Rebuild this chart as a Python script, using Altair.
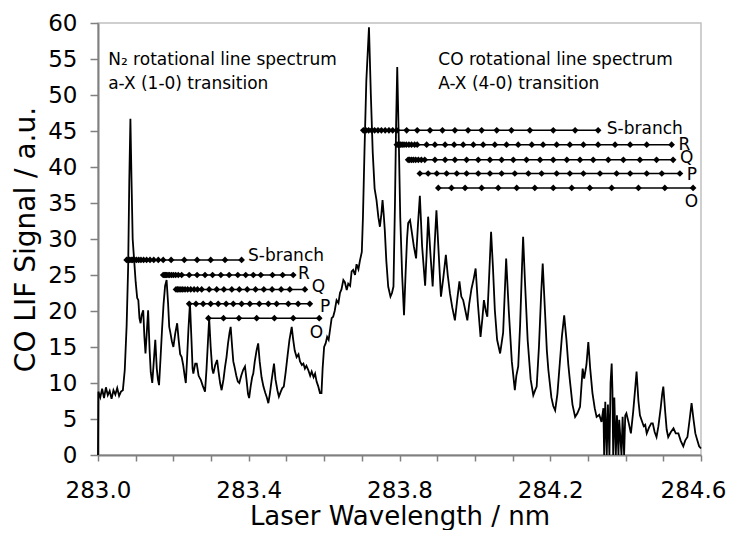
import altair as alt
import pandas as pd

# ---------------- spectrum ----------------
wavelength_nm = [
    283.000, 283.001, 283.006, 283.011, 283.016, 283.021, 283.026, 283.031, 283.036, 283.041,
    283.046, 283.051, 283.056, 283.061, 283.066, 283.071, 283.076, 283.080, 283.083, 283.086,
    283.089, 283.092, 283.096, 283.100, 283.104, 283.107, 283.110, 283.113, 283.116, 283.120,
    283.123, 283.126, 283.130, 283.133, 283.137, 283.140, 283.144, 283.148, 283.152, 283.156,
    283.159, 283.162, 283.166, 283.170, 283.174, 283.178, 283.182, 283.186, 283.189, 283.192,
    283.196, 283.200, 283.205, 283.210, 283.214, 283.218, 283.222, 283.226, 283.230, 283.233,
    283.236, 283.240, 283.244, 283.248, 283.251, 283.253, 283.258, 283.262, 283.267, 283.273,
    283.278, 283.284, 283.288, 283.292, 283.295, 283.299, 283.303, 283.306, 283.311, 283.316,
    283.320, 283.324, 283.328, 283.333, 283.337, 283.341, 283.345, 283.349, 283.352, 283.356,
    283.359, 283.362, 283.367, 283.371, 283.375, 283.380, 283.385, 283.390, 283.394, 283.398,
    283.401, 283.405, 283.409, 283.412, 283.416, 283.421, 283.425, 283.429, 283.434, 283.439,
    283.444, 283.448, 283.452, 283.456, 283.461, 283.467, 283.471, 283.476, 283.480, 283.485,
    283.489, 283.493, 283.498, 283.503, 283.508, 283.514, 283.518, 283.522, 283.527, 283.532,
    283.536, 283.541, 283.545, 283.549, 283.553, 283.558, 283.563, 283.567, 283.572, 283.576,
    283.580, 283.584, 283.589, 283.593, 283.596, 283.600, 283.604, 283.608, 283.612, 283.616,
    283.620, 283.624, 283.628, 283.633, 283.638, 283.642, 283.646, 283.651, 283.655, 283.660,
    283.664, 283.669, 283.673, 283.677, 283.682, 283.686, 283.691, 283.695, 283.700, 283.703,
    283.707, 283.712, 283.719, 283.724, 283.729, 283.734, 283.739, 283.744, 283.748, 283.752,
    283.755, 283.758, 283.761, 283.765, 283.770, 283.776, 283.780, 283.784, 283.788, 283.791,
    283.794, 283.798, 283.802, 283.807, 283.812, 283.816, 283.820, 283.823, 283.828, 283.832,
    283.838, 283.844, 283.849, 283.854, 283.860, 283.868, 283.872, 283.876, 283.882, 283.888,
    283.893, 283.898, 283.904, 283.910, 283.916, 283.923, 283.928, 283.934, 283.940, 283.947,
    283.953, 283.959, 283.964, 283.969, 283.975, 283.980, 283.985, 283.991, 283.997, 284.002,
    284.008, 284.015, 284.020, 284.024, 284.029, 284.033, 284.038, 284.043, 284.048, 284.053,
    284.059, 284.067, 284.075, 284.083, 284.090, 284.098, 284.106, 284.110, 284.115, 284.120,
    284.125, 284.128, 284.133, 284.140, 284.148, 284.155, 284.160, 284.164, 284.170, 284.176,
    284.180, 284.186, 284.191, 284.195, 284.203, 284.208, 284.213, 284.219, 284.226, 284.231,
    284.237, 284.243, 284.248, 284.252, 284.259, 284.266, 284.272, 284.279, 284.286, 284.290,
    284.296, 284.301, 284.306, 284.312, 284.318, 284.323, 284.330, 284.336, 284.341, 284.343,
    284.346, 284.350, 284.353, 284.357, 284.360, 284.363, 284.365, 284.367, 284.370, 284.374,
    284.377, 284.381, 284.383, 284.389, 284.392, 284.396, 284.399, 284.402, 284.408, 284.414,
    284.420, 284.425, 284.429, 284.434, 284.438, 284.442, 284.448, 284.452, 284.456, 284.462,
    284.468, 284.472, 284.477, 284.482, 284.487, 284.493, 284.497, 284.500, 284.505, 284.509,
    284.513, 284.520, 284.527, 284.533, 284.540, 284.546, 284.553, 284.558, 284.564, 284.570,
    284.575, 284.580, 284.585, 284.590, 284.595, 284.600,
]
lif_signal = [
    0.0, 8.8, 8.0, 9.2, 7.9, 9.4, 8.3, 8.9, 7.8, 9.0,
    8.4, 9.3, 8.2, 8.8, 9.0, 11.8, 18.0, 26.1, 38.0, 46.7,
    38.0, 30.0, 27.0, 24.0, 21.8, 21.5, 19.0, 18.3, 19.5, 20.1,
    16.5, 14.1, 17.5, 20.1, 14.5, 11.5, 10.0, 13.0, 16.0, 12.0,
    10.5, 9.7, 13.5, 17.5, 21.0, 23.5, 24.3, 21.0, 17.8, 17.0,
    15.8, 15.0, 16.9, 18.3, 16.0, 14.0, 13.6, 12.5, 11.0, 10.0,
    13.0, 17.5, 21.1, 16.0, 12.0, 11.3, 12.7, 12.7, 11.0, 10.4,
    9.6, 8.8, 12.0, 16.0, 19.0, 15.0, 12.0, 11.3, 12.5, 13.2,
    11.5, 10.0, 9.0, 10.5, 12.2, 13.6, 15.5, 17.0, 17.8, 15.0,
    13.0, 12.3, 11.0, 10.2, 10.0, 11.0, 11.8, 12.3, 10.5, 8.5,
    7.9, 9.5, 10.8, 11.3, 13.0, 14.6, 15.5, 13.0, 10.8, 9.5,
    8.6, 8.0, 7.2, 8.5, 10.5, 12.7, 10.5, 9.0, 8.1, 8.8,
    9.3, 9.5, 11.5, 13.8, 16.0, 17.8, 16.0, 14.5, 13.6, 14.0,
    13.0, 12.5, 12.7, 12.0, 12.4, 11.8, 11.0, 11.6, 10.8, 11.3,
    10.2, 9.6, 8.6, 8.6, 12.0, 15.0, 15.5, 16.4, 16.0, 17.5,
    19.0, 19.2, 20.0, 21.5, 21.1, 22.5, 23.0, 24.3, 24.0, 22.9,
    23.8, 23.5, 25.5, 25.7, 25.0, 26.5, 25.8, 27.0, 28.2, 33.0,
    42.0, 52.0, 59.4, 50.0, 42.0, 37.0, 35.4, 33.0, 31.7, 33.5,
    35.4, 33.5, 31.2, 27.0, 23.4, 22.0, 22.5, 23.4, 35.0, 46.0,
    53.9, 44.0, 33.0, 25.0, 19.4, 25.0, 30.0, 32.2, 32.6, 31.2,
    29.0, 27.3, 32.0, 36.0, 29.0, 23.5, 28.0, 33.1, 28.0, 23.4,
    29.0, 34.0, 28.0, 22.0, 24.5, 27.8, 25.0, 22.4, 20.5, 18.7,
    21.5, 24.1, 22.0, 21.5, 20.0, 18.7, 21.0, 23.1, 24.5, 25.9,
    21.0, 16.4, 19.0, 21.5, 20.0, 19.2, 25.0, 31.0, 26.0, 20.1,
    16.0, 14.1, 17.0, 27.3, 20.0, 13.0, 9.0, 11.0, 12.3, 18.0,
    26.0, 30.3, 24.0, 16.0, 10.5, 8.3, 9.0, 9.5, 15.0, 22.5,
    26.6, 20.0, 14.5, 11.8, 8.0, 6.8, 6.2, 8.5, 13.2, 16.5,
    19.4, 16.0, 12.5, 10.4, 7.0, 5.3, 5.8, 6.7, 12.0, 10.6,
    12.5, 15.7, 12.0, 8.6, 6.5, 5.3, 5.6, 4.6, 6.5, 0.0,
    7.4, 0.0, 7.0, 0.0, 10.0, 12.7, 9.0, 0.0, 8.0, 0.0,
    5.5, 0.0, 4.9, 0.0, 5.3, 0.0, 5.5, 5.8, 4.5, 3.0,
    6.0, 9.0, 11.6, 7.5, 5.5, 4.9, 4.0, 4.2, 3.0, 3.8,
    4.4, 4.4, 3.2, 2.5, 4.0, 6.5, 8.5, 9.5, 6.0, 3.5,
    2.5, 3.2, 3.7, 3.0, 3.0, 2.0, 1.2, 2.0, 2.5, 5.0,
    7.2, 5.0, 3.0, 2.1, 1.2, 0.9,
]

# ---------------- rotational line positions (nm) ----------------
n2_S = [283.076, 283.080, 283.084, 283.088, 283.092, 283.097, 283.102, 283.108, 283.114,
        283.121, 283.129, 283.138, 283.148, 283.160, 283.173, 283.194, 283.229, 283.263,
        283.299, 283.337, 283.381]
n2_R = [283.173, 283.176, 283.179, 283.182, 283.186, 283.190, 283.195, 283.200, 283.206,
        283.213, 283.222, 283.242, 283.263, 283.284, 283.304, 283.326, 283.348, 283.371,
        283.392, 283.412, 283.432, 283.463, 283.490, 283.518]
n2_Q = [283.207, 283.211, 283.215, 283.220, 283.225, 283.231, 283.238, 283.246, 283.255,
        283.264, 283.275, 283.295, 283.315, 283.334, 283.355, 283.375, 283.396, 283.418,
        283.440, 283.462, 283.486, 283.509, 283.549]
n2_P = [283.242, 283.260, 283.279, 283.299, 283.319, 283.340, 283.359, 283.381, 283.403,
        283.428, 283.452, 283.474, 283.505, 283.531, 283.562]
n2_O = [283.293, 283.333, 283.374, 283.421, 283.468, 283.518, 283.587]

co_S = [283.704, 283.711, 283.718, 283.726, 283.734, 283.743, 283.752, 283.762, 283.772,
        283.782, 283.793, 283.819, 283.847, 283.881, 283.914, 283.947, 283.982, 284.018,
        284.058, 284.097, 284.146, 284.208, 284.266, 284.327]
co_R = [283.793, 283.796, 283.799, 283.803, 283.807, 283.812, 283.818, 283.825, 283.832,
        283.840, 283.847, 283.872, 283.894, 283.921, 283.945, 283.969, 283.996, 284.022,
        284.053, 284.084, 284.115, 284.151, 284.181, 284.217, 284.252, 284.288, 284.327,
        284.372, 284.412, 284.456, 284.522]
co_Q = [283.823, 283.827, 283.832, 283.837, 283.843, 283.850, 283.858, 283.867, 283.894,
        283.921, 283.947, 283.978, 284.009, 284.040, 284.071, 284.102, 284.137, 284.173,
        284.208, 284.244, 284.279, 284.314, 284.354, 284.394, 284.438, 284.482, 284.526]
co_P = [283.854, 283.876, 283.899, 283.925, 283.952, 283.978, 284.009, 284.040, 284.071,
        284.106, 284.142, 284.177, 284.217, 284.252, 284.288, 284.332, 284.376, 284.412,
        284.456, 284.496, 284.544]
co_O = [283.903, 283.938, 283.974, 284.018, 284.062, 284.111, 284.159, 284.208, 284.257,
        284.305, 284.363, 284.434, 284.504, 284.579]

branch_names = ["N2 S", "N2 R", "N2 Q", "N2 P", "N2 O", "CO S", "CO R", "CO Q", "CO P", "CO O"]
branch_levels = [27.1, 25.0, 23.0, 21.0, 19.0, 45.1, 43.1, 41.0, 39.1, 37.1]
branch_positions = [n2_S, n2_R, n2_Q, n2_P, n2_O, co_S, co_R, co_Q, co_P, co_O]

# ---------------- labels ----------------
branch_label_text = ["S-branch", "R", "Q", "P", "O", "S-branch", "R", "Q", "P", "O"]
branch_label_x = [283.398, 283.531, 283.567, 283.589, 283.562, 284.350, 284.540, 284.544, 284.562, 284.557]
branch_label_y = [26.9, 24.5, 22.6, 19.9, 16.3, 44.6, 42.3, 40.5, 38.2, 34.5]

note_text = ["N\u2082 rotational line spectrum", "a-X (1-0) transition",
             "CO rotational line spectrum", "A-X (4-0) transition"]
note_x = [283.027, 283.027, 283.903, 283.903]
note_y = [54.1, 50.9, 54.1, 50.9]

x_ticks = [283.0, 283.1, 283.2, 283.3, 283.4, 283.5, 283.6, 283.7, 283.8, 283.9,
           284.0, 284.1, 284.2, 284.3, 284.4, 284.5, 284.6]
y_ticks = [0, 5, 10, 15, 20, 25, 30, 35, 40, 45, 50, 55, 60]

# ---------------- tables ----------------
spec_df = pd.DataFrame({"nm": wavelength_nm, "signal": lif_signal})
rows = []
for name, lvl, pos in zip(branch_names, branch_levels, branch_positions):
    for p in pos:
        rows.append({"branch": name, "nm": p, "signal": lvl})
branch_df = pd.DataFrame(rows)
blabel_df = pd.DataFrame({"nm": branch_label_x, "signal": branch_label_y, "text": branch_label_text})
note_df = pd.DataFrame({"nm": note_x, "signal": note_y, "text": note_text})

FONT = "DejaVu Sans"

x_axis = alt.Axis(
    values=x_ticks,
    labelExpr="(round(datum.value*10) - 2830) % 4 == 0 ? format(datum.value, '.1f') : ''",
    tickSize=6, tickColor="#808080", tickWidth=1.5,
    domainColor="#808080", domainWidth=2,
    labelFont=FONT, labelFontSize=23, labelColor="black",
    labelBaseline="alphabetic", labelPadding=36,
    labelOffset={"condition": {"test": "datum.value > 284.55", "value": -8}, "value": 0},
    labelFlush=False, labelOverlap=False, labelBound=False, grid=False,
    title="Laser Wavelength / nm", titleFont=FONT, titleFontSize=26,
    titleFontWeight="normal", titleColor="black",
    titleBaseline="alphabetic", titleX=301.5, titleY=69, titleAlign="center",
)
y_axis = alt.Axis(
    values=y_ticks,
    tickSize=8, tickColor="#808080", tickWidth=1.5,
    domainColor="#808080", domainWidth=2,
    labelFont=FONT, labelFontSize=23, labelColor="black",
    labelPadding=13, labelFlush=False, labelOverlap=False, grid=False,
    title="CO LIF Signal / a.u.", titleFont=FONT, titleFontSize=28,
    titleFontWeight="normal", titleColor="black",
    titleBaseline="alphabetic", titleAngle=270, titleX=-64, titleY=216, titleAlign="center",
)

x_enc = alt.X("nm:Q", scale=alt.Scale(domain=[283.0, 284.6], nice=False, zero=False), axis=x_axis)
y_enc = alt.Y("signal:Q", scale=alt.Scale(domain=[0, 60], nice=False, zero=False), axis=y_axis)

spectrum = alt.Chart(spec_df).mark_line(color="black", strokeWidth=1.8).encode(x=x_enc, y=y_enc)

branch_lines = alt.Chart(branch_df).mark_line(color="black", strokeWidth=1.5).encode(
    x=x_enc, y=y_enc, detail="branch:N")
branch_pts = alt.Chart(branch_df).mark_point(
    shape="diamond", filled=True, size=45, color="black", opacity=1).encode(x=x_enc, y=y_enc)

branch_labels = alt.Chart(blabel_df).mark_text(
    align="left", baseline="alphabetic", font=FONT, fontSize=17, color="black").encode(
    x=x_enc, y=y_enc, text="text:N")
notes = alt.Chart(note_df).mark_text(
    align="left", baseline="alphabetic", font=FONT, fontSize=17, color="black").encode(
    x=x_enc, y=y_enc, text="text:N")

chart = alt.layer(spectrum, branch_lines, branch_pts, branch_labels, notes).properties(
    width=603, height=432,
    autosize=alt.AutoSizeParams(type="none"),
    padding={"left": 90, "top": 15, "right": 28, "bottom": 75},
).configure_view(stroke="#c0c0c0", strokeWidth=1.5)

chart.save("out.html", embed_options={"renderer": "svg", "actions": False})
